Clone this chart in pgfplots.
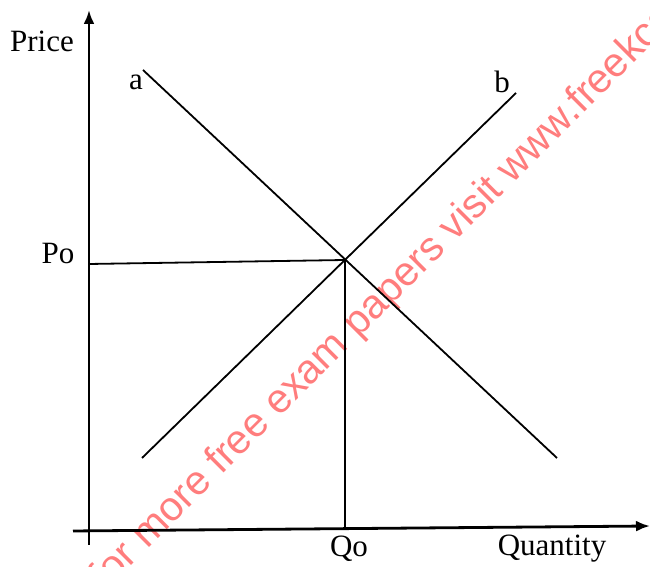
\documentclass[border=0pt]{standalone}
\usepackage{fontspec}
\setmainfont{Liberation Serif}
\newfontfamily\wmfont{Liberation Sans}
\usepackage{pgfplots}
\pgfplotsset{compat=1.18}
\usetikzlibrary{arrows.meta}
\definecolor{wmred}{RGB}{255,125,125}
\begin{document}
\begin{tikzpicture}
\begin{axis}[
  width=325pt, height=283.5pt, scale only axis,
  xmin=0, xmax=650, ymin=0, ymax=567,
  hide axis, clip=true,
]
% watermark
\node[anchor=base west, rotate=45, text=wmred, font=\wmfont\fontsize{20.5}{24}\selectfont, inner sep=0pt]
  at (axis cs:105,-25) {for more free exam papers visit www.freekcsepastpapers.com};
% axes
\addplot[line width=1.4pt, -{Latex[length=7pt,width=5.5pt]}] coordinates {(89,22) (89,557)};
\addplot[line width=1.4pt, -{Latex[length=7pt,width=5.5pt]}] coordinates {(73,36) (650,41)};
% demand a
\addplot[line width=0.9pt] coordinates {(143,497) (557,109)};
% supply b
\addplot[line width=0.9pt] coordinates {(142,109) (516,474)};
% Po and Qo lines
\addplot[line width=0.9pt] coordinates {(89,303) (345,307)};
\addplot[line width=0.9pt] coordinates {(345,307) (345,37)};
% labels
\node[font=\fontsize{15.5}{18}\selectfont] at (axis cs:42,526) {Price};
\node[font=\fontsize{15.5}{18}\selectfont] at (axis cs:136,485) {a};
\node[font=\fontsize{15.5}{18}\selectfont] at (axis cs:502,485) {b};
\node[font=\fontsize{15.5}{18}\selectfont] at (axis cs:58,313) {Po};
\node[font=\fontsize{15.5}{18}\selectfont] at (axis cs:349,18) {Qo};
\node[font=\fontsize{15.5}{18}\selectfont] at (axis cs:552,18) {Quantity};
\coordinate (bl) at (axis cs:0,0);
\coordinate (tr) at (axis cs:650,567);
\end{axis}
\pgfresetboundingbox
\path[use as bounding box] (bl) rectangle (tr);
\end{tikzpicture}
\end{document}
